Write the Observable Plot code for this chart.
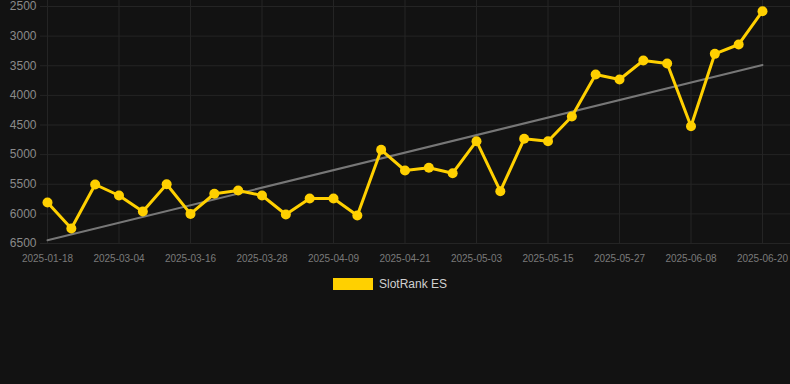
<!DOCTYPE html>
<html>
<head>
<meta charset="utf-8">
<script src="https://cdn.jsdelivr.net/npm/d3@7"></script>
<script src="https://cdn.jsdelivr.net/npm/@observablehq/plot@0.6"></script>
<style>
  html, body { margin: 0; padding: 0; background: #121212; }
  body { width: 790px; height: 384px; overflow: hidden; font-family: "Liberation Sans", Arial, sans-serif; }
  #legend { display: flex; justify-content: center; align-items: center; height: 28px; margin-top: 0px; padding-right: 10px; }
  #legend .sw { width: 40px; height: 12px; background: #FFD000; margin-right: 6px; }
  #legend .lb { color: #d0d0d0; font-size: 12px; }
</style>
</head>
<body>
<div id="chart"></div>
<div id="legend"><span class="sw"></span><span class="lb">SlotRank ES</span></div>
<script>
const seriesName = "SlotRank ES";
const dates = [
  "2025-01-18", "2025-02-02", "2025-02-18", "2025-03-04", "2025-03-08", "2025-03-12",
  "2025-03-16", "2025-03-20", "2025-03-24", "2025-03-28", "2025-04-01", "2025-04-05",
  "2025-04-09", "2025-04-13", "2025-04-17", "2025-04-21", "2025-04-25", "2025-04-29",
  "2025-05-03", "2025-05-07", "2025-05-11", "2025-05-15", "2025-05-19", "2025-05-23",
  "2025-05-27", "2025-05-31", "2025-06-04", "2025-06-08", "2025-06-12", "2025-06-16",
  "2025-06-20"
];
const ranks = [
  5808, 6247, 5504, 5690, 5960, 5500,
  6000, 5660, 5605, 5690, 6010, 5740,
  5740, 6027, 4919, 5268, 5223, 5313,
  4773, 5617, 4733, 4773, 4357, 3648,
  3732, 3411, 3462, 4520, 3299, 3141,
  2579
];
const xTickLabels = [
  "2025-01-18", "2025-03-04", "2025-03-16", "2025-03-28", "2025-04-09", "2025-04-21",
  "2025-05-03", "2025-05-15", "2025-05-27", "2025-06-08", "2025-06-20"
];
const yTicks = [2500, 3000, 3500, 4000, 4500, 5000, 5500, 6000, 6500];

const data = dates.map((d, i) => ({i, date: d, rank: ranks[i]}));
const xTicks = xTickLabels.map(d => dates.indexOf(d));

const chart = Plot.plot({
  width: 790,
  height: 270,
  marginLeft: 40,
  marginRight: 0,
  marginTop: 0,
  marginBottom: 27,
  style: {background: "#121212", color: "#8a8a8a", fontFamily: "Liberation Sans, Arial, sans-serif"},
  x: {type: "linear", domain: [0, dates.length - 1], range: [47, 762]},
  y: {type: "linear", domain: [2500, 6500], range: [6, 243]},
  marks: [
    Plot.gridY(yTicks, {stroke: "#242424", strokeOpacity: 1}),
    Plot.gridX(xTicks, {stroke: "#242424", strokeOpacity: 1}),
    Plot.axisY(yTicks, {tickSize: 0, tickPadding: 4, fontSize: 12, fill: "#8a8a8a", label: null, tickFormat: d => String(d)}),
    Plot.axisX(xTicks, {tickSize: 0, tickPadding: 11, fontSize: 10, fill: "#7a7a7a", label: null, tickFormat: i => dates[i]}),
    Plot.linearRegressionY(data, {x: "i", y: "rank", ci: 0, stroke: "#777", strokeWidth: 2}),
    Plot.line(data, {x: "i", y: "rank", stroke: "#FFD000", strokeWidth: 3}),
    Plot.dot(data, {x: "i", y: "rank", r: 5, fill: "#FFD000", stroke: "none"})
  ]
});
document.getElementById("chart").appendChild(chart);
</script>
</body>
</html>
